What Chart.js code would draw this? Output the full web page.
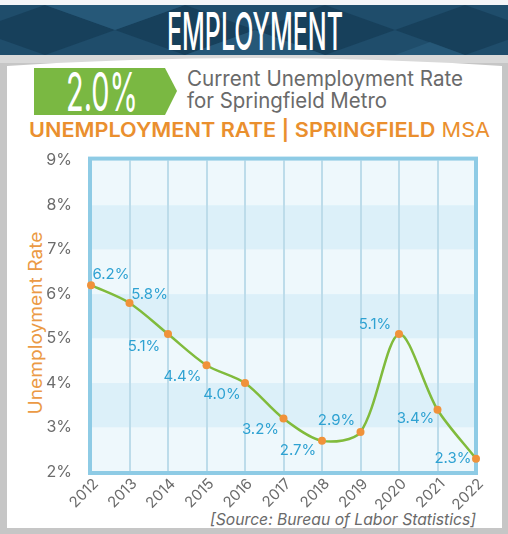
<!DOCTYPE html>
<html>
<head>
<meta charset="utf-8">
<script src="https://cdn.jsdelivr.net/npm/chart.js@4.4.1/dist/chart.umd.min.js"></script>
<style>
  html, body { margin: 0; padding: 0; background: #fff; }
  #wrap { position: relative; width: 508px; height: 534px; overflow: hidden; }
  #deco { position: absolute; left: 0; top: 0; }
  #chart { position: absolute; left: 0; top: 140px; }
</style>
</head>
<body>
<div id="wrap">
  <svg id="deco" width="508" height="534" xmlns="http://www.w3.org/2000/svg" font-family="Inter, 'Open Sans', sans-serif">
    <rect x="0" y="0" width="508" height="534" fill="#c6c6c6"/>
    <rect x="0" y="0" width="508" height="6" fill="#f4f5f7"/>
    <!-- header banner -->
    <rect x="0" y="5" width="508" height="50" fill="#1f4d6b"/>
    <g fill="#163d58" opacity="0.8">
      <polygon points="45,5 115,30 45,55 -25,30"/>
      <polygon points="185,5 255,30 185,55 115,30"/>
      <polygon points="325,5 395,30 325,55 255,30"/>
      <polygon points="465,5 535,30 465,55 395,30"/>
    </g>
    <g fill="#2d6283" opacity="0.55">
      <polygon points="115,30 185,5 45,5"/>
      <polygon points="395,55 465,55 430,42"/>
      <polygon points="255,30 325,55 185,55"/>
    </g>
    <text x="167" y="50" font-size="52" font-weight="500" fill="#ffffff" textLength="176" lengthAdjust="spacingAndGlyphs">EMPLOYMENT</text>
    <!-- frame and panel -->
    <rect x="0" y="55" width="508" height="8" fill="#d9d9d9"/>
    <path d="M7,66 Q254,50 502,66 L502,528 L7,528 Z" fill="#ffffff"/>
    <!-- headline -->
    <polygon points="34,68 165,68 177,91 165,115 34,115" fill="#7ab842"/>
    <text x="66" y="111" font-size="54" font-weight="400" fill="#ffffff" textLength="72" lengthAdjust="spacingAndGlyphs">2.0%</text>
    <text x="187" y="86" font-size="21" fill="#6a6a6a" textLength="276" lengthAdjust="spacingAndGlyphs">Current Unemployment Rate</text>
    <text x="187" y="108" font-size="21" fill="#6a6a6a" textLength="200" lengthAdjust="spacingAndGlyphs">for Springfield Metro</text>
    <text x="29" y="137" font-size="20" fill="#ea8f2e" textLength="461" lengthAdjust="spacingAndGlyphs"><tspan font-weight="600">UNEMPLOYMENT RATE | SPRINGFIELD</tspan><tspan font-weight="400"> MSA</tspan></text>
    <!-- axis title and source -->
    <text transform="translate(42,323) rotate(-90)" text-anchor="middle" font-size="18" fill="#eb9a45" textLength="183" lengthAdjust="spacingAndGlyphs">Unemployment Rate</text>
    <text x="210" y="525" font-size="16" font-style="italic" fill="#6a6a6a" textLength="266" lengthAdjust="spacingAndGlyphs">[Source: Bureau of Labor Statistics]</text>
  </svg>
  <canvas id="chart" width="508" height="394"></canvas>
</div>
<script>
const years = ['2012', '2013', '2014', '2015', '2016', '2017', '2018', '2019', '2020', '2021', '2022'];
const unemploymentRate = [6.2, 5.8, 5.1, 4.4, 4.0, 3.2, 2.7, 2.9, 5.1, 3.4, 2.3];
const rateMin = 2;
const rateMax = 9;

// where each value label sits relative to its point
const labelOffsets = [
  [20, -11], [20, -8], [-24, 12], [-24, 11], [-23, 11], [-23, 11],
  [-24, 10], [-24, -11], [-24, -10], [-22, 9], [-23, 0]
];

const FONT = 'Inter, "Open Sans", sans-serif';

// alternating horizontal bands behind the plot
const bandsPlugin = {
  id: 'bands',
  beforeDraw(chart) {
    const { ctx, chartArea: a, scales: { y } } = chart;
    ctx.save();
    for (let v = y.min; v < y.max; v++) {
      const top = y.getPixelForValue(v + 1);
      const bottom = y.getPixelForValue(v);
      ctx.fillStyle = (y.max - v) % 2 ? '#eef8fc' : '#dcf0f9';
      ctx.fillRect(a.left, top, a.right - a.left, bottom - top);
    }
    ctx.restore();
  }
};

// blue frame around the plot area
const framePlugin = {
  id: 'frame',
  beforeDatasetsDraw(chart) {
    const { ctx, chartArea: a } = chart;
    ctx.save();
    ctx.strokeStyle = '#8ecbe5';
    ctx.lineWidth = 4;
    ctx.strokeRect(a.left - 1, a.top - 2, a.right - a.left + 1, a.bottom - a.top + 3);
    ctx.restore();
  }
};

// value labels next to each point
const valueLabels = {
  id: 'valueLabels',
  afterDatasetsDraw(chart) {
    const { ctx } = chart;
    const meta = chart.getDatasetMeta(0);
    ctx.save();
    ctx.font = '15px ' + FONT;
    ctx.fillStyle = '#2fa2d2';
    ctx.textAlign = 'center';
    ctx.textBaseline = 'middle';
    meta.data.forEach((pt, i) => {
      const [dx, dy] = labelOffsets[i];
      ctx.fillText(unemploymentRate[i].toFixed(1) + '%', pt.x + dx, pt.y + dy);
    });
    ctx.restore();
  }
};

new Chart(document.getElementById('chart'), {
  type: 'line',
  data: {
    labels: years,
    datasets: [{
      data: unemploymentRate,
      borderColor: '#80bb3c',
      borderWidth: 2.5,
      tension: 0.3,
      pointRadius: 4,
      pointBorderWidth: 0,
      pointBackgroundColor: '#f0923a',
      fill: false
    }]
  },
  options: {
    responsive: false,
    animation: false,
    devicePixelRatio: 1,
    layout: { padding: { top: 13, right: 32, left: 0, bottom: 0 }, autoPadding: false },
    plugins: { legend: { display: false }, tooltip: { enabled: false } },
    scales: {
      x: {
        offset: false,
        grid: { color: '#bddcea', lineWidth: 2, drawTicks: false },
        border: { display: false },
        ticks: {
          color: '#6b6b6b',
          font: { family: FONT, size: 15 },
          minRotation: 45,
          maxRotation: 45,
          padding: 3,
          labelOffset: 5
        },
        afterFit(scale) { scale.height = 62; }
      },
      y: {
        min: rateMin,
        max: rateMax,
        grid: { display: false },
        border: { display: false },
        ticks: {
          stepSize: 1,
          color: '#6b6b6b',
          font: { family: FONT, size: 16 },
          padding: 11,
          callback: v => v + '%'
        },
        afterFit(scale) { scale.width = 91; }
      }
    }
  },
  plugins: [bandsPlugin, framePlugin, valueLabels]
});
</script>
</body>
</html>
